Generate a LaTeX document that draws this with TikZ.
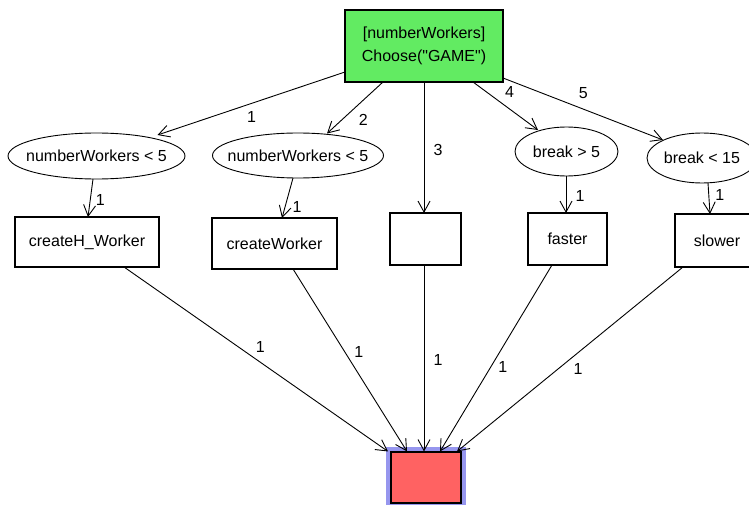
\documentclass[tikz,border=0pt]{standalone}
\usepackage{fontspec}
\setmainfont{Liberation Sans}[Ligatures=TeXOff]
\usetikzlibrary{arrows.meta,shapes.geometric}

\definecolor{chooseGreen}{RGB}{98,235,98}
\definecolor{sinkRed}{RGB}{255,98,98}
\definecolor{haloBlue}{RGB}{150,150,238}

\tikzset{
  txt/.style={font=\fontsize{16}{23}\selectfont, inner sep=0pt, outer sep=0pt},
  choosebox/.style={txt, draw, line width=1.1pt, fill=chooseGreen, align=center,
    minimum width=158pt, minimum height=72pt},
  cond/.style={txt, ellipse, draw, line width=0.9pt},
  action/.style={txt, rectangle, draw, line width=1.1pt},
  sink/.style={rectangle, draw, line width=1.1pt, fill=sinkRed,
    minimum width=70pt, minimum height=51pt,
    preaction={draw=haloBlue, line width=10pt}},
  flow/.style={line width=0.9pt, -{Straight Barb[length=11pt,width=12pt]}},
  lbl/.style={txt, inner sep=0pt}
}

\begin{document}
\begin{tikzpicture}[x=1pt,y=-1pt]
\useasboundingbox[fill=white] (0,0) rectangle (749,505);

% chooser
\node[choosebox] (top) at (424,46) {[numberWorkers]\\Choose("GAME")};

% guards
\node[cond, minimum width=177pt, minimum height=46pt] (e1) at (96.5,156) {\makebox[0pt]{numberWorkers < 5}};
\node[cond, minimum width=171pt, minimum height=45pt] (e2) at (298,155.5) {\makebox[0pt]{numberWorkers < 5}};
\node[cond, minimum width=103pt, minimum height=49pt] (e3) at (566.5,151.5) {\makebox[0pt]{break > 5}};
\node[cond, minimum width=110pt, minimum height=50pt] (e4) at (702,158) {\makebox[0pt]{break < 15}};

% actions
\node[action, minimum width=144pt, minimum height=50pt] (b1) at (87,242) {createH\_Worker};
\node[action, minimum width=125pt, minimum height=51pt] (b2) at (274.5,243.5) {createWorker};
\node[action, minimum width=71pt, minimum height=52pt] (b3) at (425.5,239) {};
\node[action, minimum width=79pt, minimum height=52pt] (b4) at (567.5,239) {faster};
\node[action, minimum width=84pt, minimum height=53pt] (b5) at (717,240.5) {slower};

% merge
\node[sink] (red) at (426,477.5) {};

% chooser branches
\draw[flow] ([yshift=-26pt]top.west) -- ([xshift=61pt,yshift=-2pt]e1.north)
  node[lbl, pos=0.52, shift={(4,12)}] {1};
\draw[flow] ([xshift=-41pt]top.south) -- ([xshift=29pt,yshift=-0.5pt]e2.north)
  node[lbl, pos=0.53, shift={(10,11)}] {2};
\draw[flow] (top.south) -- ([xshift=-1.5pt]b3.north)
  node[lbl, pos=0.52, shift={(14,0)}] {3};
\draw[flow] ([xshift=49pt]top.south) -- ([xshift=-28.5pt,yshift=-3pt]e3.north)
  node[lbl, pos=0.44, shift={(8,-11)}] {4};
\draw[flow] ([yshift=-32pt]top.east) -- ([xshift=-39pt,yshift=-7pt]e4.north)
  node[lbl, pos=0.47, shift={(5,-14)}] {5};

% guard to action
\draw[flow] ([xshift=-3.5pt]e1.south) -- ([xshift=1pt]b1.north)
  node[lbl, pos=0.55, shift={(10,0)}] {1};
\draw[flow] ([xshift=-5pt]e2.south) -- ([xshift=7.5pt]b2.north)
  node[lbl, pos=0.72, shift={(12,0)}] {1};
\draw[flow] ([xshift=-0.5pt]e3.south) -- ([xshift=-1.5pt]b4.north)
  node[lbl, pos=0.54, shift={(14,0)}] {1};
\draw[flow] ([xshift=6pt]e4.south) -- ([xshift=-7pt]b5.north)
  node[lbl, pos=0.39, shift={(11,0)}] {1};

% actions to merge
\draw[flow] ([xshift=37pt]b1.south) -- ([xshift=-38pt]red.north)
  node[lbl, pos=0.49, shift={(7,-10)}] {1};
\draw[flow] ([xshift=18.5pt]b2.south) -- ([xshift=-19pt]red.north)
  node[lbl, pos=0.49, shift={(10,-6)}] {1};
\draw[flow] ([xshift=-1.5pt]b3.south) -- ([xshift=-2pt]red.north)
  node[lbl, pos=0.51, shift={(14,0)}] {1};
\draw[flow] ([xshift=-15.5pt]b4.south) -- ([xshift=14pt]red.north)
  node[lbl, pos=0.52, shift={(9,5)}] {1};
\draw[flow] ([xshift=-34pt]b5.south) -- ([xshift=31pt]red.north)
  node[lbl, pos=0.50, shift={(8,10)}] {1};
\end{tikzpicture}
\end{document}
